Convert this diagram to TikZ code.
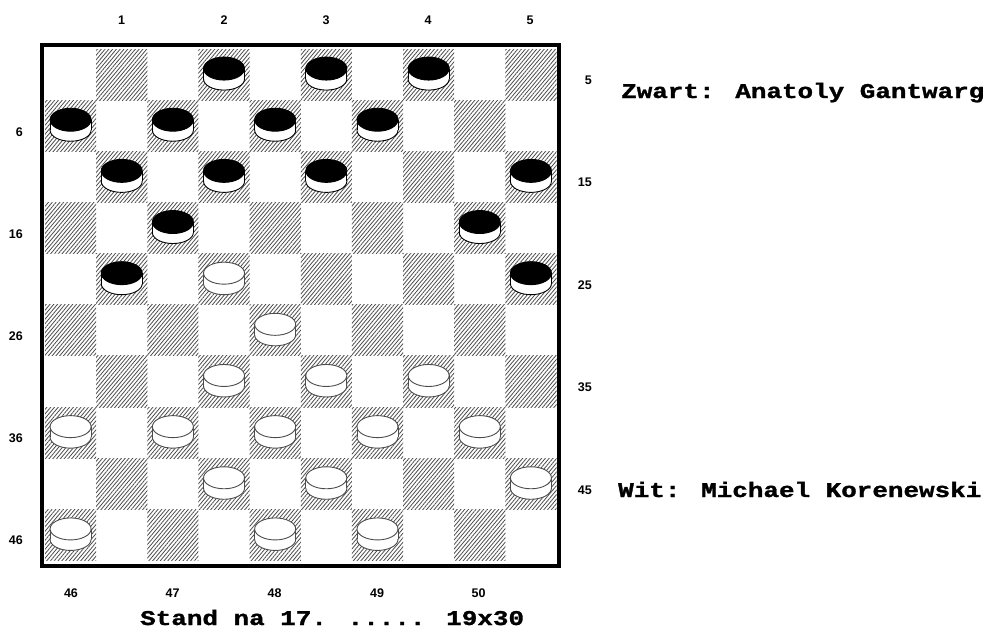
\documentclass[tikz,border=0pt]{standalone}
\usepackage{graphicx}
\usepackage{fontspec}
\setmainfont{Liberation Sans}
\newfontfamily\monofam{Liberation Mono}[BoldFeatures={FakeBold=1.2}]
\usetikzlibrary{patterns.meta}
\tikzset{
  lab/.style={font=\bfseries\fontsize{12.5}{12.5}\selectfont, inner sep=0pt},
  hatch/.style={pattern={Lines[angle=50,distance=2.9pt,line width=0.8pt]}, pattern color=black!70},
  boardframe/.style={line width=3.8pt, draw=black},
  title/.style={inner sep=0pt, anchor=base west},
}
\newcommand{\mytxt}[1]{\scalebox{1.235}[1]{\monofam\bfseries\fontsize{21}{21}\selectfont #1}}
\newcommand{\drawpiece}[3]{%
  \pgfmathsetmacro{\cx}{45+(#1+0.5)*51.15}%
  \pgfmathsetmacro{\cy}{49+(#2+0.5)*51.15}%
  \draw[line width=0.9pt, draw=#3, fill=white] (\cx,\cy+4.5) ellipse [x radius=20.5, y radius=11];
  \fill[white] (\cx-20.5,\cy-6) rectangle (\cx+20.5,\cy+4.5);
  \draw[line width=0.9pt, draw=#3] (\cx-20.5,\cy-6) -- (\cx-20.5,\cy+4.5) (\cx+20.5,\cy-6) -- (\cx+20.5,\cy+4.5);
}
\begin{document}
\begin{tikzpicture}[x=1pt,y=-1pt]
\useasboundingbox (0,0) rectangle (993,630);
\fill[white] (0,0) rectangle (993,630);
% dark squares
\foreach \r in {0,...,9} {
  \foreach \c in {0,...,9} {
    \pgfmathtruncatemacro{\odd}{mod(\r+\c,2)}
    \ifnum\odd=1
      \fill[hatch] (45+\c*51.15,49+\r*51.15) rectangle ++(51.15,51.15);
    \fi
  }
}
% border
\draw[boardframe] (41.7,44.7) rectangle (559,566);
% black pieces
\foreach \c/\r in {3/0,5/0,7/0,0/1,2/1,4/1,6/1,1/2,3/2,5/2,9/2,2/3,8/3,1/4,9/4} {
  \drawpiece{\c}{\r}{black}
  \pgfmathsetmacro{\cx}{45+(\c+0.5)*51.15}
  \pgfmathsetmacro{\cy}{49+(\r+0.5)*51.15}
  \draw[line width=0.9pt, draw=black, fill=black] (\cx,\cy-6) ellipse [x radius=20.5, y radius=11.5];
}
% white pieces
\foreach \c/\r in {3/4,4/5,3/6,5/6,7/6,0/7,2/7,4/7,6/7,8/7,3/8,5/8,9/8,0/9,4/9,6/9} {
  \drawpiece{\c}{\r}{black!70}
  \pgfmathsetmacro{\cx}{45+(\c+0.5)*51.15}
  \pgfmathsetmacro{\cy}{49+(\r+0.5)*51.15}
  \draw[line width=0.9pt, draw=black!70, fill=white] (\cx,\cy-6) ellipse [x radius=20.5, y radius=11];
}
% top labels
\node[lab] (t1) at (121.5,20) {1};
\node[lab] (t2) at (224,20) {2};
\node[lab] (t3) at (326,20) {3};
\node[lab] (t4) at (428,20) {4};
\node[lab] (t5) at (530,20) {5};
% left labels
\node[lab, anchor=east] (l6) at (23,132) {6};
\node[lab, anchor=east] (l16) at (23,234) {16};
\node[lab, anchor=east] (l26) at (23,336) {26};
\node[lab, anchor=east] (l36) at (23,438) {36};
\node[lab, anchor=east] (l46) at (23,540) {46};
% right labels
\node[lab, anchor=east] (r5) at (592,80) {5};
\node[lab, anchor=east] (r15) at (592,182) {15};
\node[lab, anchor=east] (r25) at (592,285) {25};
\node[lab, anchor=east] (r35) at (592,387) {35};
\node[lab, anchor=east] (r45) at (592,490) {45};
% bottom labels
\node[lab] (b46) at (71,593) {46};
\node[lab] (b47) at (172.5,593) {47};
\node[lab] (b48) at (274.5,593) {48};
\node[lab] (b49) at (377,593) {49};
\node[lab] (b50) at (478.5,593) {50};
% texts
\node[title] (zwart) at (621,98) {\mytxt{Zwart: Anatoly Gantwarg}};
\node[title] (wit) at (618,497) {\mytxt{Wit: Michael Korenewski}};
\node[title] (stand) at (140,625) {\mytxt{Stand na 17. ..... 19x30}};
\end{tikzpicture}
\end{document}
